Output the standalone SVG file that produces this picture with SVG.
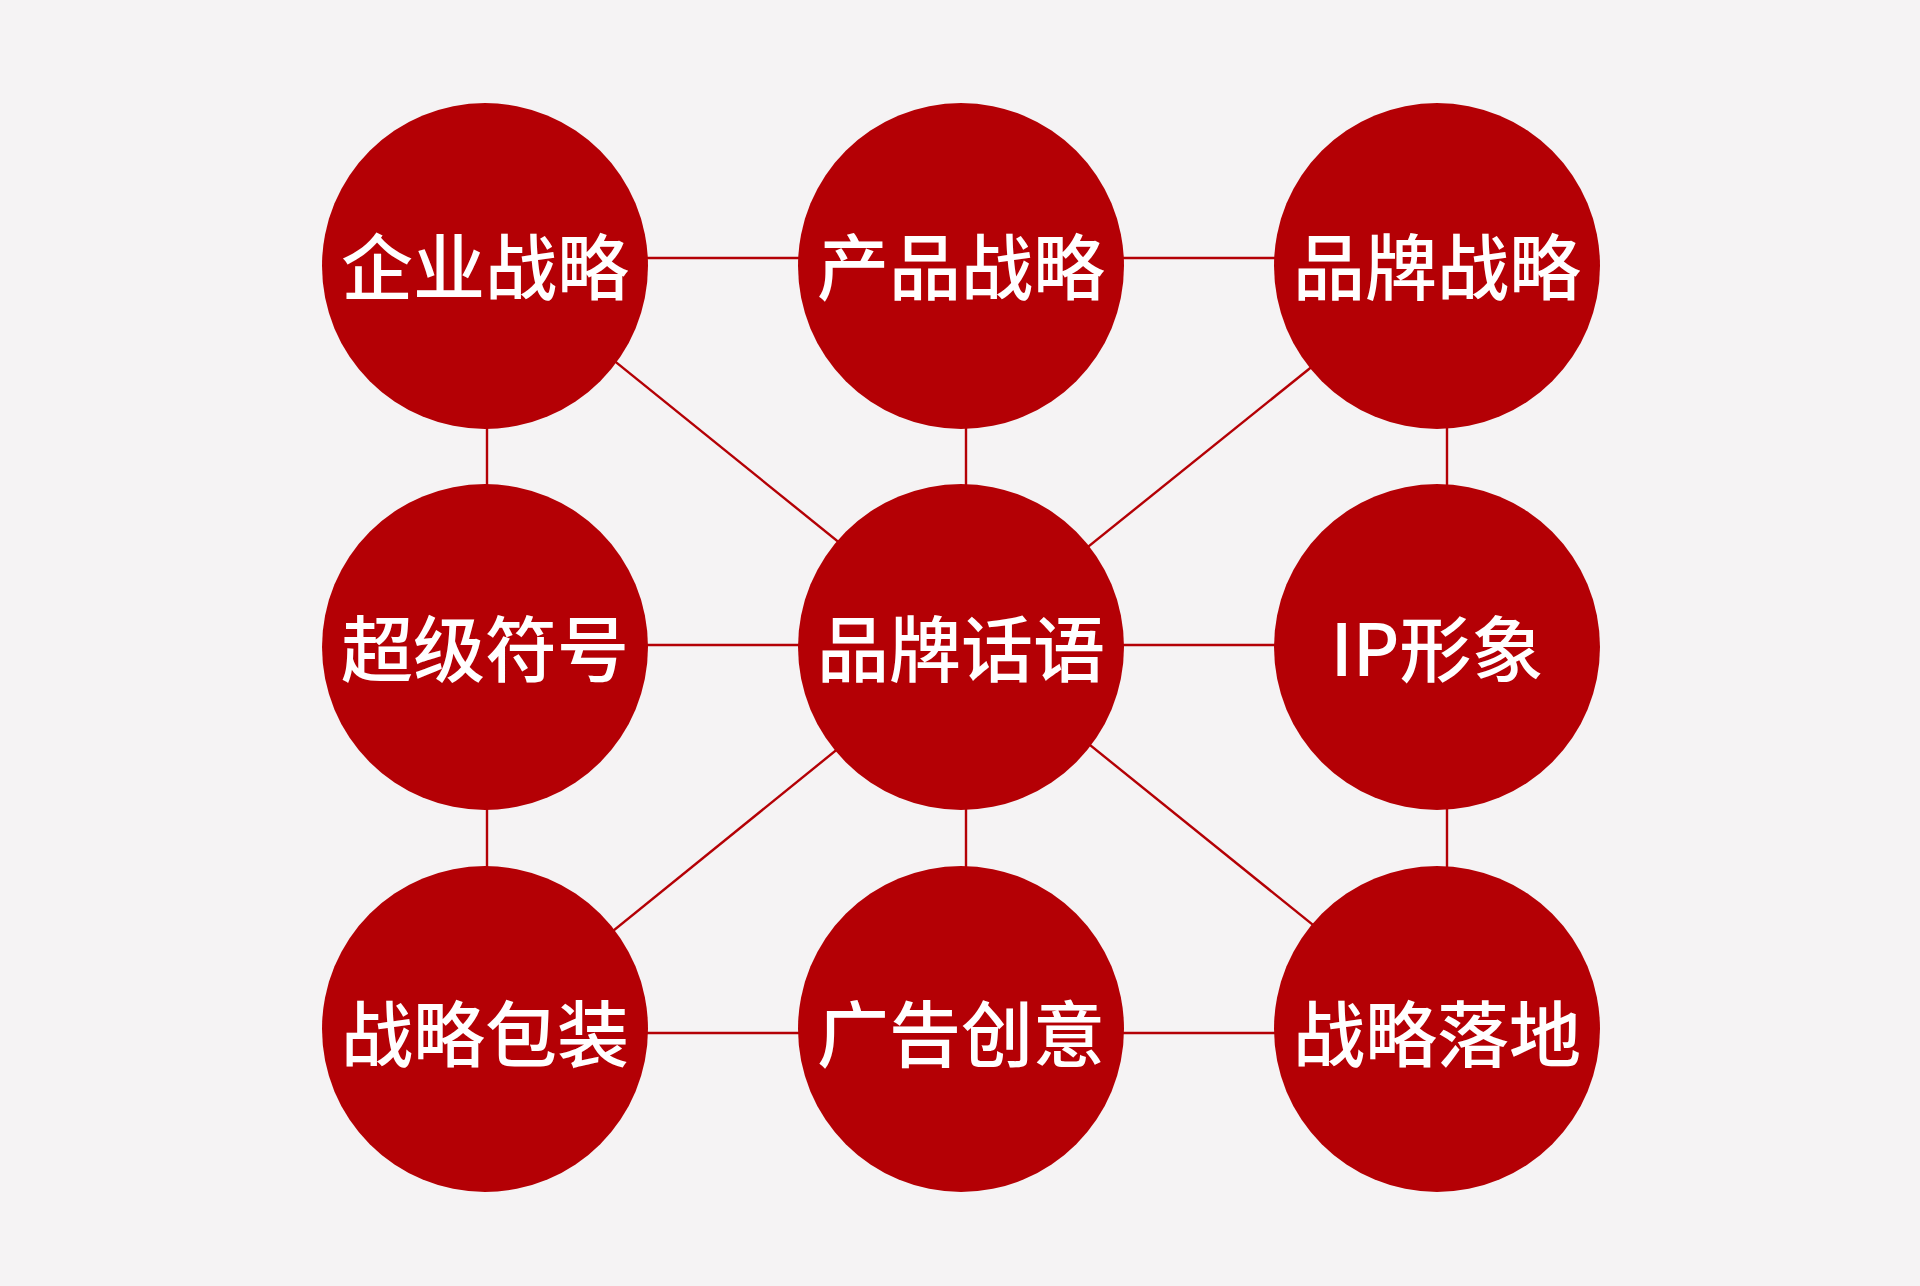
<svg xmlns="http://www.w3.org/2000/svg" width="1920" height="1286" viewBox="0 0 1920 1286">
<style>
.bg{fill:#f5f3f4}
.node circle{fill:#b40005}
.node text{fill:#ffffff;font-family:"Noto Sans CJK SC","Liberation Sans",sans-serif;font-size:72px;font-weight:500;text-anchor:middle;dominant-baseline:central}
#connectors line{stroke:#b40005;stroke-width:2.4}
</style>
<rect class="bg" x="0" y="0" width="1920" height="1286"/>
<g id="connectors">
<line x1="487" y1="258" x2="1447" y2="258"/>
<line x1="487" y1="645" x2="1447" y2="645"/>
<line x1="487" y1="1033" x2="1447" y2="1033"/>
<line x1="487" y1="258" x2="487" y2="1033"/>
<line x1="966" y1="258" x2="966" y2="1033"/>
<line x1="1447" y1="258" x2="1447" y2="1033"/>
<line x1="487" y1="258" x2="966" y2="645"/>
<line x1="1447" y1="258" x2="966" y2="645"/>
<line x1="487" y1="1033" x2="966" y2="645"/>
<line x1="1447" y1="1033" x2="966" y2="645"/>
</g>
<g id="n1" class="node"><circle cx="485" cy="266" r="163"/><text x="485" y="262">企业战略</text></g>
<g id="n2" class="node"><circle cx="961" cy="266" r="163"/><text x="961" y="262">产品战略</text></g>
<g id="n3" class="node"><circle cx="1437" cy="266" r="163"/><text x="1437" y="262">品牌战略</text></g>
<g id="n4" class="node"><circle cx="485" cy="647" r="163"/><text x="485" y="644">超级符号</text></g>
<g id="n5" class="node"><circle cx="961" cy="647" r="163"/><text x="961" y="644">品牌话语</text></g>
<g id="n6" class="node"><circle cx="1437" cy="647" r="163"/><text x="1437" y="644">IP形象</text></g>
<g id="n7" class="node"><circle cx="485" cy="1029" r="163"/><text x="485" y="1029">战略包装</text></g>
<g id="n8" class="node"><circle cx="961" cy="1029" r="163"/><text x="961" y="1029">广告创意</text></g>
<g id="n9" class="node"><circle cx="1437" cy="1029" r="163"/><text x="1437" y="1029">战略落地</text></g>
</svg>
